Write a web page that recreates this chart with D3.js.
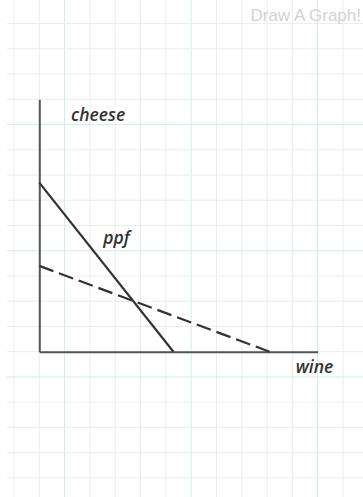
<!DOCTYPE html>
<html>
<head>
<meta charset="utf-8">
<script src="https://cdn.jsdelivr.net/npm/d3@7/dist/d3.min.js"></script>
<style>
  html, body { margin: 0; padding: 0; background: #fff; }
  svg { display: block; }
  .hand { font-family: "Open Sans", "Noto Sans", sans-serif; font-style: italic; font-weight: 600; fill: #333; }
</style>
</head>
<body>
<svg id="chart" width="363" height="497"></svg>
<script>
// Production possibilities: wine (x) against cheese (y), in grid units
const ppf = [
  { wine: 0, cheese: 6.7 },
  { wine: 5.3, cheese: 0 }
];
const tradeLine = [
  { wine: 0, cheese: 3.4 },
  { wine: 9.1, cheese: 0 }
];
const axisMax = { wine: 11, cheese: 10 };
const axisLabels = { x: "wine", y: "cheese" };
const curveLabel = "ppf";
const title = "Draw A Graph!";

// Graph-paper grid extents (in the same units as the axes)
const gridX = d3.range(-1, 13);
const gridY = d3.range(-5, 14);

const W = 363, H = 497;
const svg = d3.select("#chart");

const x = d3.scaleLinear().domain([0, axisMax.wine]).range([39.3, 317.7]);
const y = d3.scaleLinear().domain([0, axisMax.cheese]).range([351.7, 99.3]);

// Background grid: every fifth line is a faint teal
const grid = svg.append("g");
grid.selectAll("line.v").data(gridX).join("line")
  .attr("x1", d => x(d)).attr("x2", d => x(d))
  .attr("y1", 0).attr("y2", H)
  .attr("stroke", d => ((d - 1) % 5 === 0) ? "#d3ede6" : "#ececec")
  .attr("stroke-width", 1);
grid.selectAll("line.h").data(gridY).join("line")
  .attr("x1", 7).attr("x2", W)
  .attr("y1", d => y(d)).attr("y2", d => y(d))
  .attr("stroke", d => (((d - 4) % 5) + 5) % 5 === 0 ? "#d3ede6" : "#ececec")
  .attr("stroke-width", 1);

// Title
svg.append("text")
  .attr("x", 361).attr("y", 21)
  .attr("text-anchor", "end")
  .attr("font-family", "'Liberation Sans', Arial, sans-serif")
  .attr("font-size", 17)
  .attr("fill", "#d2d2d2")
  .text(title);

// Axes (plain lines, no ticks)
const xAxis = d3.axisBottom(x).tickValues([]).tickSizeOuter(0);
const yAxis = d3.axisLeft(y).tickValues([]).tickSizeOuter(0);
svg.append("g").attr("transform", `translate(0,${y(0)})`).call(xAxis)
  .select(".domain").attr("stroke", "#555").attr("stroke-width", 2);
svg.append("g").attr("transform", `translate(${x(0)},0)`).call(yAxis)
  .select(".domain").attr("stroke", "#555").attr("stroke-width", 2);

const line = d3.line().x(d => x(d.wine)).y(d => y(d.cheese));

svg.append("path").datum(ppf)
  .attr("d", line).attr("fill", "none")
  .attr("stroke", "#333").attr("stroke-width", 2.2);

svg.append("path").datum(tradeLine)
  .attr("d", line).attr("fill", "none")
  .attr("stroke", "#333").attr("stroke-width", 2.2)
  .attr("stroke-dasharray", "15,6");

// Labels
svg.append("text").attr("class", "hand")
  .attr("x", 71).attr("y", 120.7).attr("font-size", 17.5).text(axisLabels.y);
svg.append("text").attr("class", "hand")
  .attr("x", 103.3).attr("y", 244).attr("font-size", 17.5).text(curveLabel);
svg.append("text").attr("class", "hand")
  .attr("x", 295.7).attr("y", 373.3).attr("font-size", 17.5).text(axisLabels.x);
</script>
</body>
</html>
